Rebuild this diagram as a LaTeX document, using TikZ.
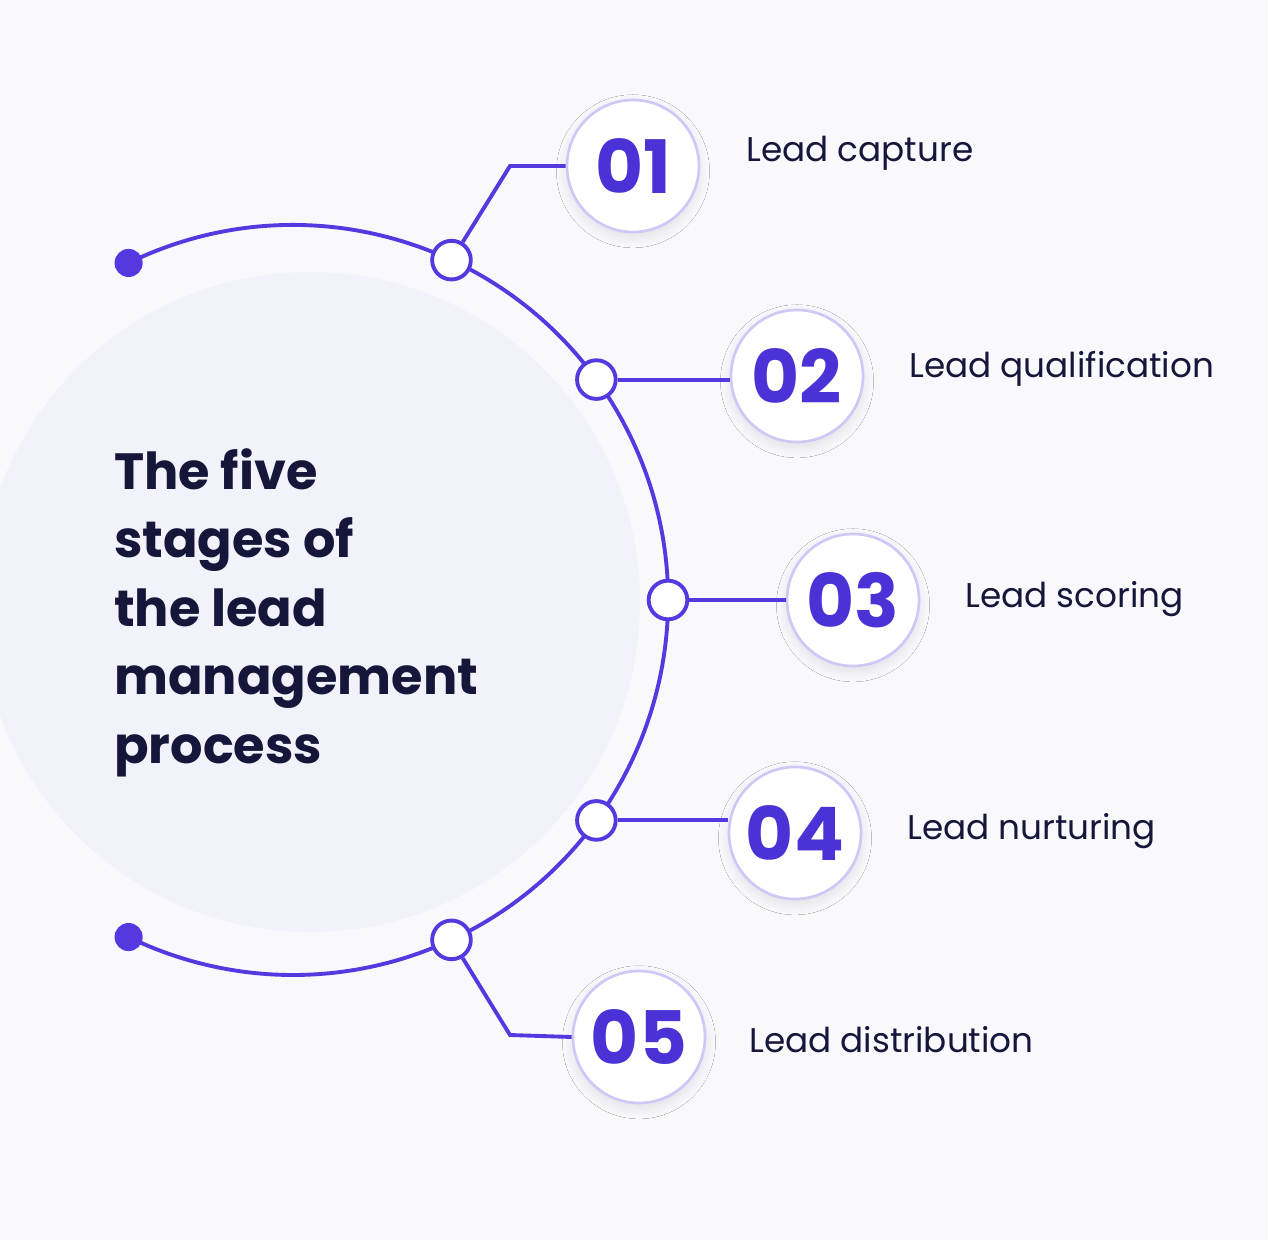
\documentclass[tikz,border=0pt]{standalone}
\usepackage{fontspec}
\setmainfont{Poppins}
\usetikzlibrary{shadows.blur,calc}
\definecolor{bg}{HTML}{F8F8FD}
\definecolor{pur}{HTML}{5638E0}
\definecolor{num}{HTML}{4B32D6}
\definecolor{ink}{HTML}{16163A}
\definecolor{ring}{HTML}{CFC7F6}
\definecolor{halo}{HTML}{F2F2FB}
\begin{document}
\begin{tikzpicture}[x=0.02cm,y=-0.02cm,
  line/.style={pur,line width=2.2pt},
  knot/.style={circle,draw=pur,line width=2.2pt,fill=white,minimum size=22pt,inner sep=0pt},
  dot/.style={circle,fill=pur,minimum size=16pt,inner sep=0pt},
  numc/.style={circle,draw=ring,line width=1.5pt,fill=white,minimum size=132*0.02cm,inner sep=0pt,
    font=\bfseries\fontsize{42}{42}\selectfont,text=num,blur shadow={shadow blur steps=10,shadow xshift=0pt,shadow yshift=-3pt,shadow opacity=10,shadow blur radius=6pt}},
  lab/.style={anchor=west,text=ink,font=\fontsize{19.5}{19.5}\selectfont}]
\useasboundingbox (0,0) rectangle (1268,1240);
\fill[bg] (0,0) rectangle (1268,1240);
\begin{scope}
\clip (0,0) rectangle (1268,1240);
\fill[halo] (310,602) circle (330*0.02cm);
\end{scope}
\coordinate (c) at (293,600);
\draw[line] (c) ++(116:375*0.02cm) arc[start angle=116,end angle=-116,radius=375*0.02cm];
\node[dot] (s) at ($(c)+(116:375*0.02cm)$) {};
\node[dot] (e) at ($(c)+(-116:375*0.02cm)$) {};
\foreach \a/\n in {65/k1,36/k2,0/k3,-36/k4,-65/k5}
  \node[knot] (\n) at ($(c)+(\a:375*0.02cm)$) {};
\node[numc] (n1) at (633,166) {01};
\node[numc] (n2) at (797,376) {02};
\node[numc] (n3) at (853,600) {03};
\node[numc] (n4) at (795,833) {04};
\node[numc] (n5) at (639,1037) {05};
\coordinate (b1) at (510,166);
\coordinate (b5) at (510,1035);
\draw[line] (k1) -- (b1) -- (n1.west);
\draw[line] (k2) -- (k2 -| n2.west);
\draw[line] (k3) -- (n3.west);
\draw[line] (k4) -- (k4 -| n4.west);
\draw[line] (k5) -- (b5) -- (n5.west);
\node[lab] (l1) at (740,153) {Lead capture};
\node[lab] (l2) at (903,369) {Lead qualification};
\node[lab] (l3) at (959,599) {Lead scoring};
\node[lab] (l4) at (901,831) {Lead nurturing};
\node[lab] (l5) at (743,1040) {Lead distribution};
\node[anchor=north west,text=ink,align=left,font=\bfseries\fontsize{29}{39}\selectfont] (t) at (108,442)
 {The five\\stages of\\the lead\\management\\process};
\end{tikzpicture}
\end{document}
